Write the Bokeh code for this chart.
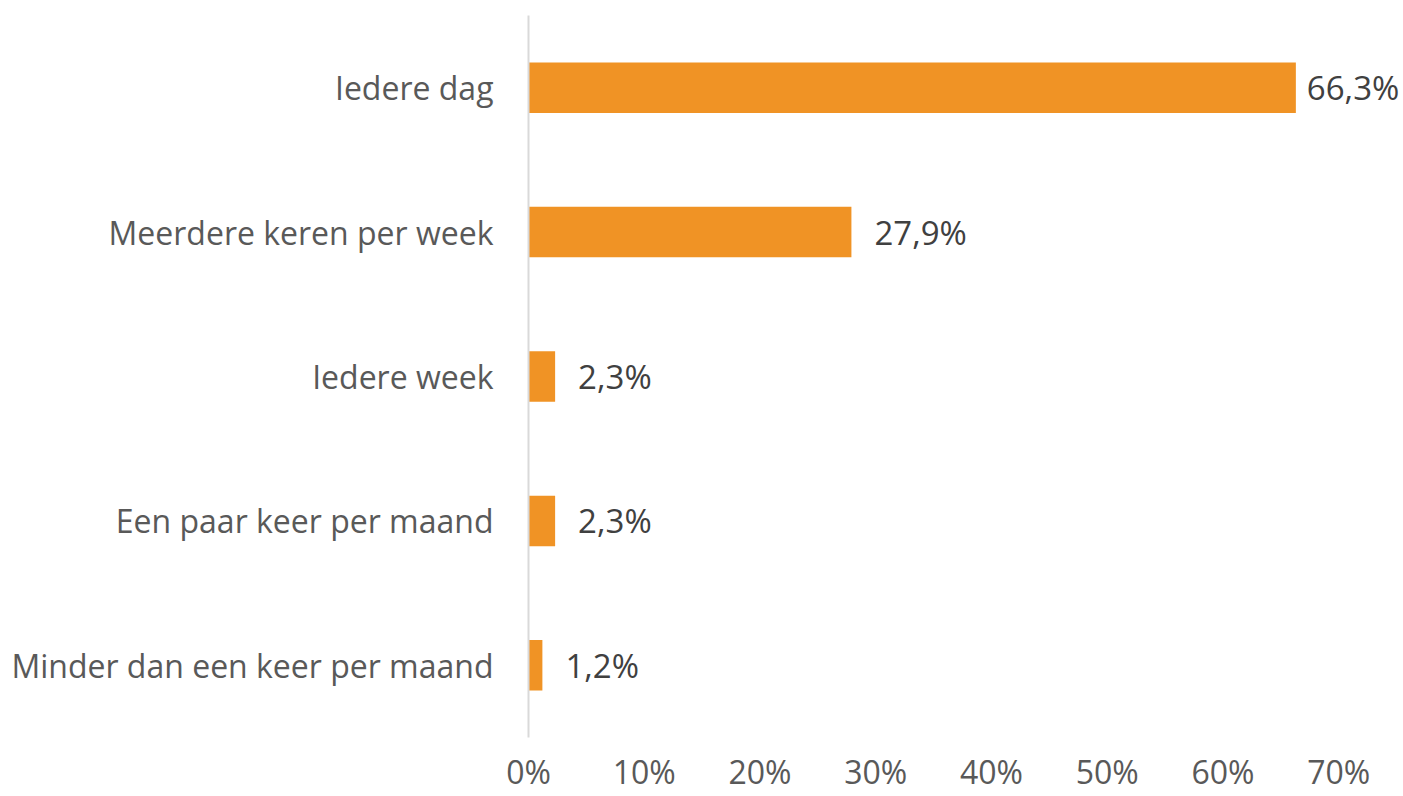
from bokeh.plotting import figure
from bokeh.models import ColumnDataSource, FactorRange, Range1d, FixedTicker, NumeralTickFormatter
from bokeh.core.properties import value
from bokeh.embed import file_html
from bokeh.resources import INLINE

categories = ["Iedere dag", "Meerdere keren per week", "Iedere week",
              "Een paar keer per maand", "Minder dan een keer per maand"]
values = [0.663, 0.279, 0.023, 0.023, 0.012]
tick_values = [0, 0.1, 0.2, 0.3, 0.4, 0.5, 0.6, 0.7]

FONT = "Open Sans"
labels = [("%.1f%%" % (v * 100)).replace(".", ",") for v in values]
offsets = [11 if v > 0.6 else 23 for v in values]

src = ColumnDataSource(dict(cat=categories, val=values, lab=labels, off=offsets))

p = figure(width=1403, height=796, output_backend="svg", toolbar_location=None,
           y_range=FactorRange(*reversed(categories)), x_range=Range1d(0, 0.756),
           min_border_left=528, min_border_top=15, min_border_right=0, min_border_bottom=59)
p.outline_line_color = None
p.background_fill_color = "white"
p.border_fill_color = "white"
p.grid.visible = False

p.hbar(y="cat", right="val", left=0, height=0.35, source=src,
       fill_color="#F09325", line_color=None)
p.text(x="val", y="cat", text="lab", source=src, x_offset="off",
       text_baseline="middle", text_align="left", text_color="#404040",
       text_font=value(FONT), text_font_size="33px")

xa = p.xaxis[0]
xa.ticker = FixedTicker(ticks=tick_values)
xa.formatter = NumeralTickFormatter(format="0%")
xa.axis_line_color = None
xa.major_tick_line_color = None
xa.minor_tick_line_color = None
xa.major_tick_out = 0
xa.major_tick_in = 0
xa.major_label_text_font = FONT
xa.major_label_text_font_size = "32px"
xa.major_label_text_color = "#595959"
xa.major_label_standoff = 12

ya = p.yaxis[0]
ya.axis_line_color = "#d9d9d9"
ya.axis_line_width = 2
ya.major_tick_line_color = None
ya.minor_tick_line_color = None
ya.major_tick_out = 0
ya.major_tick_in = 0
ya.major_label_text_font = FONT
ya.major_label_text_font_size = "32px"
ya.major_label_text_color = "#595959"
ya.major_label_standoff = 35

open("out.html", "w").write(file_html(p, INLINE))
